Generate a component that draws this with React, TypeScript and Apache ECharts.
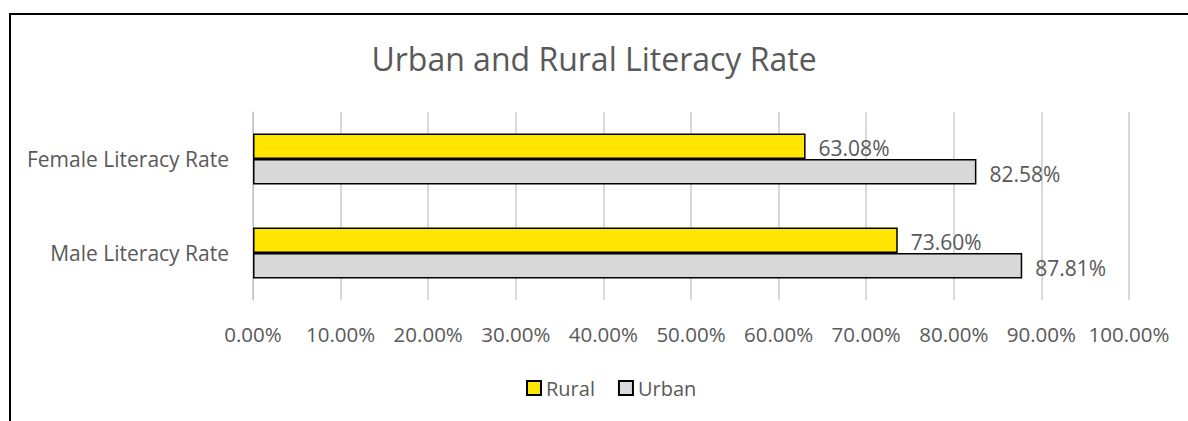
import React, { useEffect, useRef } from "react";
import * as echarts from "echarts";

const categories = ["Male Literacy Rate", "Female Literacy Rate"];
const seriesNames = ["Rural", "Urban"];
const ruralValues = [73.6, 63.08];
const urbanValues = [87.81, 82.58];
const xTicks = [0, 10, 20, 30, 40, 50, 60, 70, 80, 90, 100];

const FONT = "'Open Sans', sans-serif";
const TEXT = "#595959";

export default function App() {
  const ref = useRef<HTMLDivElement>(null);
  useEffect(() => {
    if (!ref.current) return;
    const chart = echarts.init(ref.current, undefined, { renderer: "svg" });
    const label = {
      show: true,
      position: "right",
      distance: 13,
      offset: [0, 2],
      color: TEXT,
      fontFamily: FONT,
      fontSize: 21,
      formatter: (p: any) => Number(p.value).toFixed(2) + "%",
    };
    chart.setOption({
      animation: false,
      backgroundColor: "#ffffff",
      title: {
        text: "Urban and Rural Literacy Rate",
        left: "center",
        top: 37,
        textStyle: { color: TEXT, fontFamily: FONT, fontSize: 32, fontWeight: "normal" },
      },
      legend: {
        data: seriesNames,
        bottom: 18,
        left: 521,
        itemWidth: 14,
        itemHeight: 14,
        itemGap: 23,
        icon: "rect",
        textStyle: { color: TEXT, fontFamily: FONT, fontSize: 20 },
      },
      grid: { left: 253, right: 59, top: 112, bottom: 121, containLabel: false },
      xAxis: {
        type: "value",
        min: xTicks[0],
        max: xTicks[xTicks.length - 1],
        interval: 10,
        axisLine: { show: false },
        axisTick: { show: false },
        splitLine: { show: true, lineStyle: { color: "#d9d9d9", width: 2 } },
        axisLabel: {
          color: TEXT,
          fontFamily: FONT,
          fontSize: 20.5,
          margin: 23,
          formatter: (v: number) => v.toFixed(2) + "%",
        },
      },
      yAxis: {
        type: "category",
        data: categories,
        axisLine: { show: true, lineStyle: { color: "#bfbfbf", width: 1 } },
        axisTick: { show: false },
        axisLabel: { color: TEXT, fontFamily: FONT, fontSize: 21, margin: 24 },
      },
      series: [
        {
          name: seriesNames[0],
          type: "bar",
          data: ruralValues,
          barGap: "0%",
          barCategoryGap: "46%",
          itemStyle: { color: "#ffe500", borderColor: "#000000", borderWidth: 1.5 },
          label,
        },
        {
          name: seriesNames[1],
          type: "bar",
          data: urbanValues,
          barGap: "0%",
          barCategoryGap: "46%",
          itemStyle: { color: "#d9d9d9", borderColor: "#000000", borderWidth: 1.5 },
          label,
        },
      ],
      graphic: [
        {
          type: "rect",
          silent: true,
          z: 100,
          shape: { x: 10, y: 14, width: 1400, height: 600 },
          style: { fill: "none", stroke: "#000000", lineWidth: 2 },
        },
      ],
    });
    return () => chart.dispose();
  }, []);
  return (
    <div
      ref={ref}
      style={{ position: "fixed", left: 0, top: 0, width: 1188, height: 421 }}
    />
  );
}
